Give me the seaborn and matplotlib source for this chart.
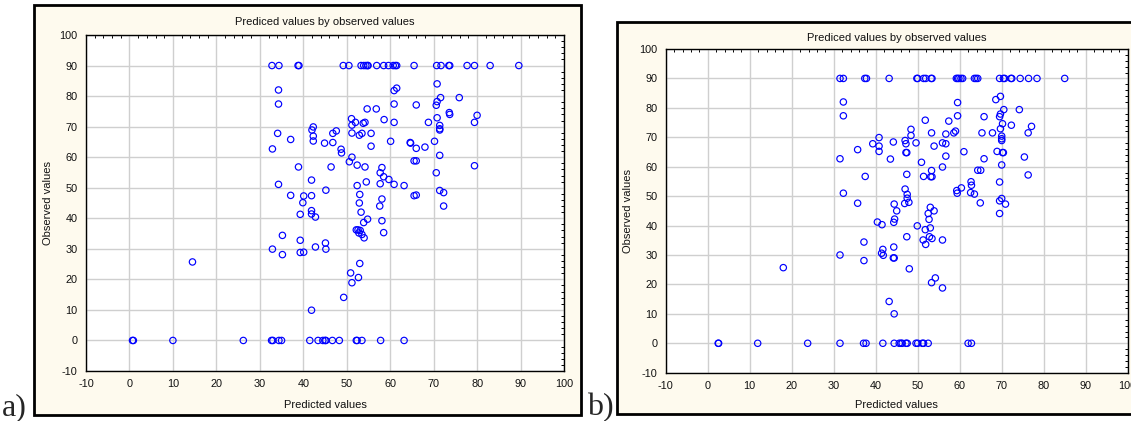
import numpy as np
import pandas as pd
import matplotlib
matplotlib.use("Agg")
import matplotlib.pyplot as plt
from matplotlib.patches import Rectangle
from matplotlib.ticker import MultipleLocator
import seaborn as sns

# ---------------- data: panel a ----------------
pred_a_top = [32.8, 34.4, 38.8, 39.0, 49.2, 50.5, 53.3, 53.9, 54.4, 54.8, 54.9, 56.9, 58.5,
              59.6, 60.7, 61.2, 61.5, 65.5, 70.7, 71.7, 73.5, 73.7, 77.7, 79.4, 83.0, 89.6]
obs_a_top = [90] * len(pred_a_top)

pred_a_mid = [70.8, 34.3, 60.9, 61.5, 71.6, 75.9, 34.3, 60.9, 66.0, 70.8,
              70.6, 54.7, 56.8, 73.6, 73.7, 80.0, 51.1, 51.2, 52.0, 53.8,
              54.2, 58.6, 70.8, 60.9, 68.8, 71.4, 71.4, 71.4, 79.4, 42.3,
              42.0, 47.6, 46.8, 51.2, 52.9, 53.5, 55.6, 34.1, 37.1, 42.3,
              42.3, 44.9, 46.8, 60.1, 64.6, 64.7, 70.2, 55.6, 66.0, 68.0,
              32.9, 48.7, 48.8, 71.4, 51.2, 50.6, 65.5, 66.0, 38.9, 46.4,
              52.4, 54.2, 58.1, 57.7, 58.5, 59.7, 79.4, 70.6, 41.9, 34.3,
              52.4, 54.5, 57.7, 60.9, 63.2, 45.2, 71.4, 72.3, 37.1, 40.1,
              41.9, 53.0, 65.5, 66.0, 39.9, 52.9, 58.1, 57.6, 72.3, 41.9,
              41.9, 39.3, 42.8, 53.3, 54.8, 53.9, 58.1, 52.2, 52.6, 53.1,
              52.8, 53.5, 54.0, 58.5, 35.2, 39.3, 45.1, 45.2, 32.9, 42.8,
              39.3, 40.1, 35.2, 14.5, 53.0, 50.9, 52.7, 51.2, 49.3, 41.9]
obs_a_mid = [84.0, 82.0, 81.8, 82.6, 79.5, 79.5, 77.4, 77.4, 77.1, 78.2,
             77.0, 75.8, 75.8, 74.6, 74.0, 73.7, 72.6, 70.5, 71.4, 71.1,
             71.4, 72.3, 72.9, 71.4, 71.4, 70.4, 69.3, 68.9, 71.4, 69.9,
             68.9, 68.6, 67.8, 67.9, 67.2, 67.8, 67.8, 67.8, 65.8, 66.9,
             65.3, 64.6, 64.8, 65.2, 64.8, 64.6, 65.2, 63.6, 62.9, 63.3,
             62.7, 62.6, 61.4, 60.6, 60.0, 58.5, 58.8, 58.8, 56.8, 56.8,
             57.4, 56.8, 56.6, 54.9, 53.6, 52.7, 57.2, 54.9, 52.5, 51.1,
             50.7, 51.9, 51.3, 51.1, 50.7, 49.2, 49.1, 48.4, 47.5, 47.3,
             47.4, 47.8, 47.4, 47.6, 45.1, 45.0, 46.3, 44.0, 44.0, 42.5,
             41.4, 41.3, 40.4, 42.0, 39.7, 38.6, 39.2, 36.2, 36.2, 36.0,
             35.2, 34.7, 33.6, 35.3, 34.4, 32.8, 31.9, 29.9, 29.9, 30.6,
             28.8, 28.9, 28.1, 25.7, 25.2, 22.1, 20.6, 18.9, 14.1, 9.9]

pred_a_zero = [0.7, 0.9, 10.0, 26.2, 32.7, 33.0, 34.4, 35.0, 41.5, 43.4,
               44.5, 45.0, 45.2, 46.7, 48.3, 52.2, 52.4, 53.5, 57.8, 63.2]
obs_a_zero = [0] * len(pred_a_zero)

# ---------------- data: panel b ----------------
pred_b_top = [31.5, 32.3, 37.4, 37.8, 43.2, 49.8, 50.0, 51.4, 51.9, 53.2, 53.4, 59.2, 59.5, 59.8,
              60.3, 60.7, 63.5, 63.9, 64.3, 69.5, 70.4, 70.7, 72.2, 72.4, 74.4, 76.4, 78.4, 85.0]
obs_b_top = [90] * len(pred_b_top)

pred_b_mid = [69.7, 68.6, 32.3, 59.5, 70.5, 74.2, 69.7, 69.5, 32.3, 59.5,
              65.8, 51.8, 57.4, 70.2, 72.3, 77.1, 69.7, 48.4, 48.4, 59.0,
              58.6, 56.7, 53.3, 65.3, 67.8, 76.3, 40.8, 47.0, 70.0, 70.0,
              70.0, 44.2, 39.3, 47.2, 49.6, 55.9, 56.7, 40.8, 53.9, 35.7,
              40.8, 47.2, 47.4, 61.0, 68.9, 70.2, 70.4, 56.7, 31.5, 43.5,
              65.8, 75.4, 50.9, 55.9, 70.0, 64.3, 65.0, 53.3, 47.4, 37.5,
              51.4, 53.1, 53.4, 76.3, 62.7, 62.8, 69.5, 47.0, 60.4, 59.3,
              59.4, 62.6, 63.5, 32.3, 47.5, 47.5, 70.0, 69.5, 47.9, 46.9,
              35.7, 44.4, 64.9, 70.9, 53.0, 45.0, 53.9, 52.5, 69.5, 44.5,
              44.3, 52.7, 40.4, 41.5, 49.9, 53.0, 51.8, 47.4, 52.8, 53.4,
              51.3, 55.9, 51.9, 37.2, 44.3, 41.7, 41.4, 41.8, 31.5, 44.2,
              44.4, 37.2, 18.0, 48.0, 54.2, 53.3, 55.9, 43.2, 44.4]
obs_b_mid = [83.9, 82.8, 82.0, 81.8, 79.4, 79.4, 77.9, 77.0, 77.3, 77.3,
             77.0, 75.8, 75.5, 74.6, 74.1, 73.7, 72.9, 72.7, 70.6, 72.1,
             71.5, 71.1, 71.5, 71.5, 71.5, 71.5, 69.9, 68.9, 70.4, 69.5,
             68.9, 68.4, 67.8, 67.8, 68.1, 68.1, 67.8, 67.0, 67.0, 65.8,
             65.2, 64.8, 64.8, 65.1, 65.2, 64.8, 64.8, 63.6, 62.7, 62.6,
             62.7, 63.3, 61.5, 59.9, 60.6, 58.8, 58.8, 58.7, 57.4, 56.7,
             56.7, 56.6, 56.6, 57.2, 54.9, 53.7, 54.8, 52.4, 52.8, 51.9,
             51.0, 51.2, 50.7, 51.0, 50.6, 49.3, 49.2, 48.4, 47.9, 47.5,
             47.6, 47.3, 47.7, 47.3, 46.2, 45.0, 45.0, 44.1, 44.1, 42.2,
             41.1, 42.1, 41.2, 40.3, 39.9, 39.2, 38.6, 36.2, 36.2, 35.6,
             35.1, 35.1, 33.6, 34.4, 32.7, 31.9, 30.6, 29.9, 30.0, 29.0,
             29.0, 28.1, 25.7, 25.3, 22.2, 20.6, 18.8, 14.2, 10.0]

pred_b_zero = [2.5, 2.6, 11.9, 23.8, 31.5, 37.1, 37.7, 41.7, 44.4, 45.6, 46.0,
               46.3, 47.2, 47.5, 49.6, 50.0, 51.1, 51.4, 52.5, 62.0, 62.8]
obs_b_zero = [0] * len(pred_b_zero)

axis_ticks = [-10, 0, 10, 20, 30, 40, 50, 60, 70, 80, 90, 100]
title_text = "Prediced values by observed values"
xlabel_text = "Predicted values"
ylabel_text = "Observed values"

df_a = pd.DataFrame({"pred": pred_a_top + pred_a_mid + pred_a_zero,
                     "obs": obs_a_top + obs_a_mid + obs_a_zero})
df_b = pd.DataFrame({"pred": pred_b_top + pred_b_mid + pred_b_zero,
                     "obs": obs_b_top + obs_b_mid + obs_b_zero})

# ---------------- figure ----------------
sns.set_style("white")
plt.rcParams["font.family"] = ["Liberation Sans", "DejaVu Sans"]
plt.rcParams["axes.unicode_minus"] = False

W, H = 1131, 421
fig = plt.figure(figsize=(W / 100, H / 100), dpi=100)
fig.patch.set_facecolor("white")

FRAME = "#FEFAEE"

def frame(x0, y0, x1, y1):
    r = Rectangle((x0 / W, 1 - y1 / H), (x1 - x0) / W, (y1 - y0) / H,
                  transform=fig.transFigure, facecolor=FRAME, edgecolor="black",
                  linewidth=2.0, zorder=-10)
    fig.patches.append(r)

frame(34, 5, 581, 415)
frame(617, 22, 1145, 414)

def add_ax(l, r, t, b):
    ax = fig.add_axes([l / W, 1 - b / H, (r - l) / W, (b - t) / H])
    ax.set_zorder(5)
    return ax

ax_a = add_ax(86, 564, 35, 371)
ax_b = add_ax(665.7, 1127.7, 49, 372.7)

for ax, df, tpad, xlp, ylp in [(ax_a, df_a, 7, 8, 5), (ax_b, df_b, 6, 6.5, 4.5)]:
    sns.scatterplot(data=df, x="pred", y="obs", ax=ax, marker="o", s=21,
                    facecolor="none", edgecolor="#0000FF", linewidth=0.85,
                    zorder=3, legend=False)
    ax.set_xlim(-10, 100)
    ax.set_ylim(-10, 100)
    ax.set_xticks(axis_ticks)
    ax.set_yticks(axis_ticks)
    ax.xaxis.set_minor_locator(MultipleLocator(2))
    ax.yaxis.set_minor_locator(MultipleLocator(2))
    ax.set_facecolor("white")
    ax.grid(True, which="major", color="#CFCFCF", linewidth=1.0)
    ax.set_axisbelow(True)
    for sp in ax.spines.values():
        sp.set_color("black")
        sp.set_linewidth(1.0)
    ax.tick_params(which="major", direction="out", length=3, width=0.8,
                   labelsize=7.8, pad=3, color="black", labelcolor="#111111")
    ax.tick_params(which="minor", direction="in", length=2, width=0.7,
                   top=True, right=True, color="black")
    ax.set_title(title_text, fontsize=8, pad=tpad, color="#111111")
    ax.set_xlabel(xlabel_text, fontsize=8, labelpad=xlp, color="#111111")
    ax.set_ylabel(ylabel_text, fontsize=8, labelpad=ylp, color="#111111")

fig.text(2 / W, 1 - 415 / H, "a)", fontsize=23, family=["Liberation Serif", "DejaVu Serif"],
         ha="left", va="baseline")
fig.text(587 / W, 1 - 415 / H, "b)", fontsize=23, family=["Liberation Serif", "DejaVu Serif"],
         ha="left", va="baseline")

fig.savefig("out.png", dpi=100, facecolor="white")
